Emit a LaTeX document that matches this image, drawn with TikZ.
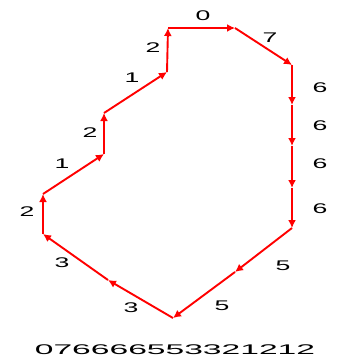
\documentclass[tikz,border=0pt]{standalone}
\usepackage{fontspec}
\newfontfamily\codefont[FakeStretch=1.9]{Liberation Sans}
\newfontfamily\codewide[FakeStretch=2.4]{Liberation Sans}
\usetikzlibrary{arrows.meta}

\begin{document}
\begin{tikzpicture}[
  x=1pt, y=-1pt,
  chain/.style={draw=red, line width=1.9pt, -{Latex[length=8pt,width=8pt]}},
  lbl/.style={inner sep=0pt, font=\codefont\fontsize{14}{14}\selectfont}
]
  \useasboundingbox (0,0) rectangle (340,364);
  % boundary points of the chain
  \coordinate (c0) at (168,28);
  \coordinate (c1) at (235,28);
  \coordinate (c2) at (292,65);
  \coordinate (c3) at (292,105);
  \coordinate (c4) at (292,146);
  \coordinate (c5) at (292,188);
  \coordinate (c6) at (292,228);
  \coordinate (c7) at (235,272);
  \coordinate (c8) at (173,318);
  \coordinate (c9) at (108,280);
  \coordinate (c10) at (43,234);
  \coordinate (c11) at (43,194);
  \coordinate (c12) at (104,154);
  \coordinate (c13) at (104,113);
  \coordinate (c14) at (167,72);

  \foreach \a/\b in {c0/c1, c1/c2, c2/c3, c3/c4, c4/c5, c5/c6, c6/c7, c7/c8,
                     c8/c9, c9/c10, c10/c11, c11/c12, c12/c13, c13/c14, c14/c0}
    \draw[chain] (\a) -- (\b);

  % direction codes
  \node[lbl] (d0) at (203,16) {0};
  \node[lbl] (d1) at (270,38) {7};
  \node[lbl] (d2) at (320,88) {6};
  \node[lbl] (d3) at (320,126) {6};
  \node[lbl] (d4) at (320,164) {6};
  \node[lbl] (d5) at (320,209) {6};
  \node[lbl] (d6) at (283,266) {5};
  \node[lbl] (d7) at (222,306) {5};
  \node[lbl] (d8) at (131,308) {3};
  \node[lbl] (d9) at (62,263) {3};
  \node[lbl] (d10) at (27,212) {2};
  \node[lbl] (d11) at (62,164) {1};
  \node[lbl] (d12) at (90,133) {2};
  \node[lbl] (d13) at (132,78) {1};
  \node[lbl] (d14) at (153,48) {2};

  \node[lbl, font=\codewide\fontsize{14}{14}\selectfont] (code) at (175,350) {076666553321212};
\end{tikzpicture}
\end{document}
